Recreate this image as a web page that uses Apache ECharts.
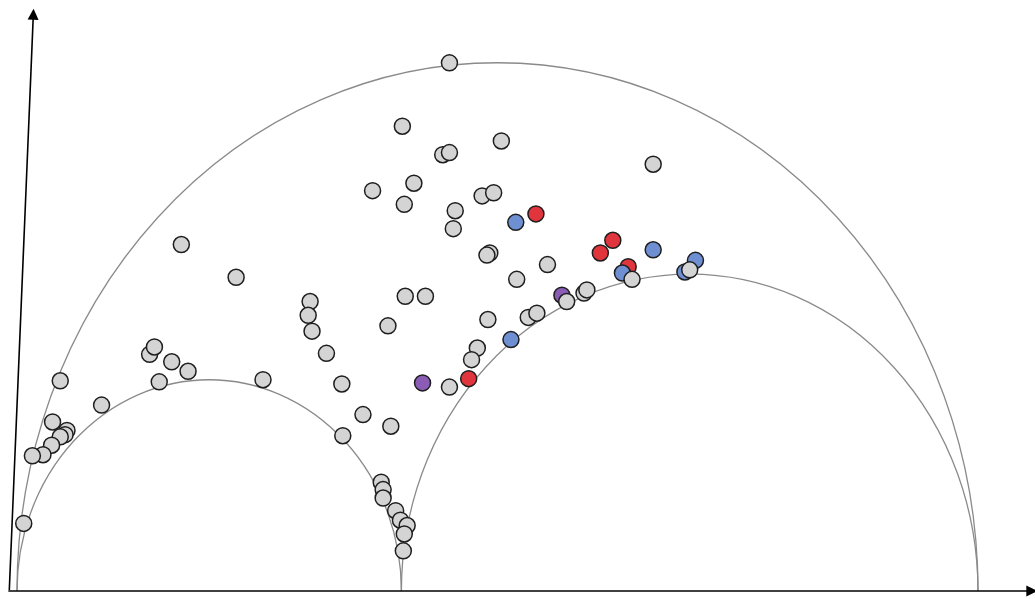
<!DOCTYPE html>
<html>
<head>
<meta charset="utf-8">
<script src="https://cdn.jsdelivr.net/npm/echarts@6/dist/echarts.min.js"></script>
<style>
  html, body { margin: 0; padding: 0; background: #fff; }
  #chart { width: 1035px; height: 599px; }
</style>
</head>
<body>
<div id="chart"></div>
<script>
// 半圆: [圆心x, 半径]
const arcs = [[50, 50], [20, 20], [70, 30]];

// 坐标轴箭头 [[起点], [终点]]
const axisLines = [
  [[-0.9, 0], [105.6, 0]],
  [[-0.8, 0.1], [1.7, 54.6]]
];

// 灰色点
const grayPoints = [
  [45.0, 50.0], [40.1, 44.0], [44.3, 41.3], [45.0, 41.5], [50.4, 42.6], [66.2, 40.4],
  [37.0, 37.9], [41.3, 38.6], [40.3, 36.6], [48.4, 37.4], [49.6, 37.7], [45.6, 36.0],
  [45.4, 34.3], [49.2, 32.0], [48.9, 31.8], [17.1, 32.8], [22.8, 29.7], [55.2, 30.9],
  [52.0, 29.5], [64.0, 29.5], [70.0, 30.4], [40.4, 27.9], [42.5, 27.9], [30.5, 27.4],
  [30.3, 26.1], [30.7, 24.6], [38.6, 25.1], [49.0, 25.7], [53.2, 25.9], [54.1, 26.3],
  [57.2, 27.4], [59.0, 28.2], [59.3, 28.5], [32.2, 22.5], [47.9, 23.0], [47.3, 21.9],
  [45.0, 19.3], [33.8, 19.6], [36.0, 16.7], [38.9, 15.6], [33.9, 14.7], [25.6, 20.0],
  [4.5, 19.9], [8.8, 17.6], [3.7, 16.0], [5.2, 15.2], [5.0, 14.8], [4.5, 14.6],
  [3.6, 13.8], [2.7, 12.9], [1.6, 12.8], [0.7, 6.4], [13.8, 22.4], [14.3, 23.1],
  [16.1, 21.7], [17.8, 20.8], [14.8, 19.8], [37.9, 10.3], [38.1, 9.6], [38.1, 8.8],
  [39.4, 7.6], [39.9, 6.7], [40.6, 6.2], [40.3, 5.4], [40.2, 3.8]
];
// 红色点
const redPoints = [[54.0, 35.7], [62.0, 33.2], [60.7, 32.0], [63.6, 30.7], [47.0, 20.1]];
// 蓝色点
const bluePoints = [[51.9, 34.9], [66.2, 32.3], [63.0, 30.1], [70.6, 31.3], [69.5, 30.2], [51.4, 23.8]];
// 紫色点
const purplePoints = [[56.7, 28.0], [42.2, 19.7]];

function dots(name, data, color) {
  return {
    name: name,
    type: 'scatter',
    data: data,
    symbol: 'circle',
    symbolSize: 16,
    clip: false,
    silent: true,
    itemStyle: {
      color: color,
      borderColor: '#1e1e1e',
      borderWidth: 1.5,
      opacity: 1
    }
  };
}

window.onload = function() {
  const chart = echarts.init(document.getElementById('chart'));
  chart.setOption({
    animation: false,
    backgroundColor: '#fff',
    grid: { left: 17, right: 57, top: 10, bottom: 8 },
    xAxis: { type: 'value', min: 0, max: 100, show: false },
    yAxis: { type: 'value', min: 0, max: 55, show: false },
    series: [
      // 半圆弧
      {
        type: 'custom',
        data: arcs,
        clip: false,
        silent: true,
        encode: { x: 0, y: 1 },
        renderItem: function(params, api) {
          const c = api.coord([api.value(0), 0]);
          const s = api.size([api.value(1), api.value(1)]);
          return {
            type: 'arc',
            x: c[0],
            y: c[1],
            scaleY: s[1] / s[0],
            shape: { cx: 0, cy: 0, r: s[0], startAngle: Math.PI, endAngle: 2 * Math.PI },
            style: { stroke: '#8a8a8a', lineWidth: 1.3, fill: null }
          };
        }
      },
      // 坐标轴
      {
        type: 'lines',
        coordinateSystem: 'cartesian2d',
        clip: false,
        silent: true,
        data: axisLines.map(function(p) { return { coords: p }; }),
        symbol: ['none', 'triangle'],
        symbolSize: 11,
        lineStyle: { color: '#000', width: 1.6, opacity: 1 }
      },
      dots('red', redPoints, '#e0353c'),
      dots('blue', bluePoints, '#6f8fd3'),
      dots('purple', purplePoints, '#8a5cb6'),
      dots('gray', grayPoints, '#d4d4d4')
    ]
  });
};
</script>
</body>
</html>
